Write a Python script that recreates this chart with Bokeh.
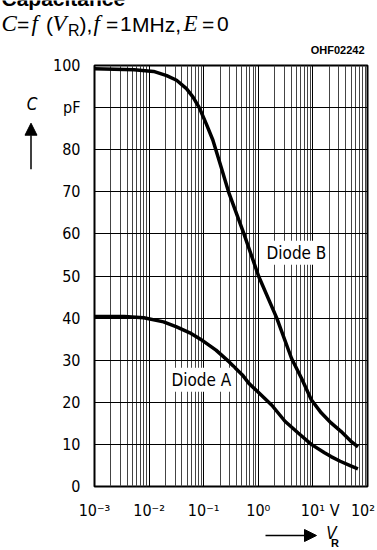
from bokeh.plotting import figure
from bokeh.layouts import column, row
from bokeh.models import Label, Arrow, NormalHead, FixedTicker, Range1d
from bokeh.embed import file_html
from bokeh.resources import INLINE

# ---- data (V_R in volts, C in pF) ----
vr_b = [0.001, 0.0053, 0.0121, 0.021, 0.0319, 0.0483, 0.0638, 0.0843, 0.111, 0.147,
        0.207, 0.285, 0.546, 1.01, 2.18, 4.07, 6.18, 9.35, 14.2, 21.5, 32.6, 49.3, 66.8]
c_b = [99.2, 99.0, 98.6, 97.6, 96.5, 94.5, 92.5, 89.8, 86.2, 82.3,
       76.0, 70.0, 60.0, 50.0, 40.0, 30.4, 25.7, 20.6, 17.5, 15.1, 13.1, 10.8, 9.4]

vr_a = [0.001, 0.0035, 0.008, 0.0184, 0.0319, 0.0556, 0.0968, 0.168, 0.293, 0.511,
        0.673, 1.0, 1.77, 3.08, 5.38, 9.35, 16.3, 21.5, 31.6, 49.3, 66.8]
c_a = [40.4, 40.4, 40.1, 39.1, 37.9, 36.5, 34.6, 32.4, 29.6, 26.5,
       24.5, 22.4, 19.3, 15.5, 12.7, 10.0, 8.0, 7.1, 6.0, 4.9, 4.2]

x_ticks = [1e-3, 1e-2, 1e-1, 1, 10, 100]
x_tick_labels = ["10\u207b\u00b3", "10\u207b\u00b2", "10\u207b\u00b9", "10\u2070",
                 "10\u00b9", "10\u00b2\u00a0\u00a0"]
x_minor = [m * 10.0 ** e for e in range(-3, 2) for m in range(2, 10)]
y_ticks = list(range(0, 101, 10))
unit_tick_x = 25          # where the "V" unit sits on the x axis
unit_tick_y = 90          # the "pF" unit replaces this y label

SANS = "Liberation Sans"
SERIF = "Liberation Serif"
COND = "DejaVu Sans Condensed"

BOTTOM = {}


def strip(w, h, page_top):
    f = figure(width=w, height=h, x_range=Range1d(0, w), y_range=Range1d(0, h),
               title=None, output_backend="svg", toolbar_location=None,
               x_axis_location=None, y_axis_location=None, min_border=0)
    f.min_border_left = f.min_border_right = f.min_border_top = f.min_border_bottom = 0
    f.outline_line_color = None
    f.grid.visible = False
    f.background_fill_color = "white"
    f.border_fill_color = "white"
    BOTTOM[id(f)] = page_top + h
    return f


def lab(fig, text, x, y, size, font=SANS, style="normal", align="left",
        baseline="alphabetic", bg=None, page=True):
    if page:
        yy = BOTTOM[id(fig)] - y
        if baseline == "alphabetic":
            yy += 0.32 * size   # compensate the renderer's baseline shift
    else:
        yy = y
    l = Label(x=x, y=yy, text=text, text_font=font, text_font_size=f"{size}px",
              text_font_style=style, text_align=align, text_baseline=baseline,
              text_color="black")
    if bg:
        l.background_fill_color = bg
        l.padding = 2
    fig.add_layout(l)


t = strip(377, 55, 0)
lf = strip(50, 467, 55)
bf = strip(377, 28, 522)

# ---------- title strip (page y 0..55) ----------
lab(t, "Capacitance", 1, 5, 21, style="bold")
tb = 30.5
lab(t, "C", 1, tb, 23, font=SERIF, style="italic")
lab(t, "=", 16.5, tb, 21)
lab(t, "f", 31, tb, 23, font=SERIF, style="italic")
lab(t, "(", 45.5, tb, 21)
lab(t, "V", 52, tb, 23, font=SERIF, style="italic")
lab(t, "R", 67.5, tb + 5, 16)
lab(t, "),", 79, tb, 21)
lab(t, "f", 93, tb, 23, font=SERIF, style="italic")
lab(t, "=", 105.5, tb, 21)
lab(t, "1", 119.5, tb, 21)
lab(t, "MHz,", 131.5, tb, 21)
lab(t, "E", 183, tb, 23, font=SERIF, style="italic")
lab(t, "=", 201.5, tb, 21)
lab(t, "0", 216.5, tb, 21)
lab(t, "OHF02242", 364, 53, 11, style="bold", align="right")

# ---------- left strip (page y 55..522) ----------
lab(lf, "C", 31.5, 98, 17, font=COND, style="italic", align="center", baseline="middle")
lf.add_layout(Arrow(end=NormalHead(size=12, fill_color="black", line_color="black"),
                    x_start=30.5, y_start=522 - 170, x_end=30.5, y_end=522 - 119,
                    line_color="black", line_width=1.5))

# ---------- main chart (page y 55..522, frame 65..489) ----------
p = figure(width=327, height=467, x_axis_type="log", x_range=(1e-3, 1e2), y_range=(0, 100),
           title=None, output_backend="svg", toolbar_location=None,
           min_border_left=40, min_border_right=10, min_border_top=10, min_border_bottom=33)
p.background_fill_color = "white"
p.border_fill_color = "white"
p.outline_line_color = "black"
p.outline_line_width = 2

p.xaxis.ticker = FixedTicker(ticks=x_ticks + [unit_tick_x])
overrides = dict(zip(x_ticks, x_tick_labels))
overrides[unit_tick_x] = "V"
p.xaxis.major_label_overrides = overrides
p.yaxis.ticker = FixedTicker(ticks=y_ticks)
p.yaxis.major_label_overrides = {unit_tick_y: "pF"}
p.xgrid.ticker = FixedTicker(ticks=x_ticks, minor_ticks=x_minor)
p.ygrid.ticker = FixedTicker(ticks=y_ticks)
for ax in (p.xaxis, p.yaxis):
    ax.axis_line_color = None
    ax.major_tick_line_color = None
    ax.minor_tick_line_color = None
    ax.major_label_text_font = COND
    ax.major_label_text_font_size = "16px"
    ax.major_label_text_color = "black"
p.xaxis.major_label_standoff = 8
p.yaxis.major_label_standoff = 8

p.xgrid.grid_line_color = "black"
p.xgrid.minor_grid_line_color = "#444444"
p.ygrid.grid_line_color = "black"

p.line(vr_b, c_b, line_color="black", line_width=3.5)
p.line(vr_a, c_a, line_color="black", line_width=3.5)


def X(px):   # page pixel -> data, frame spans page x 90..367
    return 10 ** ((px - 90) / 55.4 - 3)


def Y(py):   # frame spans page y 65..489
    return (489 - py) / 4.24


lab(p, "Diode B", X(262.5), Y(253.5), 17, font=COND, baseline="middle", bg="white", page=False)
lab(p, "Diode A", X(166), Y(381.5), 17, font=COND, baseline="middle", bg="white", page=False)

# ---------- bottom strip (page y 522..550) ----------
bf.add_layout(Arrow(end=NormalHead(size=12, fill_color="black", line_color="black"),
                    x_start=265, y_start=550 - 535, x_end=316, y_end=550 - 535,
                    line_color="black", line_width=1.5))
lab(bf, "V", 331, 532.5, 17, font=COND, style="italic", align="center", baseline="middle")
lab(bf, "R", 334.5, 542, 11, style="bold", align="center", baseline="middle")

layout = column(t, row(lf, p), bf)
open("out.html", "w").write(file_html(layout, INLINE))
